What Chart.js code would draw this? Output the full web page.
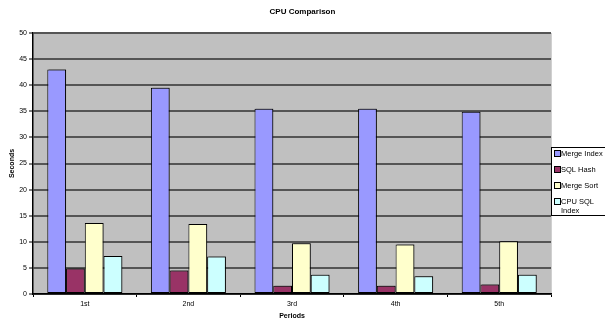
<!DOCTYPE html>
<html>
<head>
<meta charset="utf-8">
<script src="https://cdn.jsdelivr.net/npm/chart.js@4/dist/chart.umd.min.js"></script>
<style>
  html, body { margin: 0; padding: 0; background: #ffffff; }
  #wrap { width: 605px; height: 320px; position: relative; }
  #heading {
    position: absolute; left: 0; top: 7px; width: 605px; text-align: center;
    font: bold 8px "Liberation Sans", Arial, sans-serif; color: #000;
  }
</style>
</head>
<body>
<div id="wrap">
  <canvas id="cpu" width="605" height="320"></canvas>
  <div id="heading">CPU Comparison</div>
</div>
<script>
// Periods and CPU seconds per method
const periods = ['1st', '2nd', '3rd', '4th', '5th'];
const mergeIndex = [43, 39.5, 35.5, 35.5, 34.9];
const sqlHash = [4.9, 4.5, 1.6, 1.6, 1.8];
const mergeSort = [13.6, 13.4, 9.7, 9.5, 10.1];
const cpuSqlIndex = [7.3, 7.2, 3.7, 3.4, 3.7];
const seriesNames = ['Merge Index', 'SQL Hash', 'Merge Sort', ['CPU SQL', 'Index']];
const seriesColors = ['#9999FF', '#993366', '#FFFFCC', '#CCFFFF'];
const yTicks = [0, 5, 10, 15, 20, 25, 30, 35, 40, 45, 50];

const FONT = '"Liberation Sans", Arial, sans-serif';

// Grey plot background plus a soft drop shadow behind the bars
const plotBackground = {
  id: 'plotBackground',
  beforeDraw(chart) {
    const { ctx, chartArea: a } = chart;
    ctx.save();
    ctx.fillStyle = '#C0C0C0';
    ctx.fillRect(a.left, a.top, a.right - a.left, a.bottom - a.top);
    ctx.strokeStyle = '#d0d0d0';
    ctx.lineWidth = 1;
    ctx.beginPath();
    ctx.moveTo(a.right + 0.5, a.top);
    ctx.lineTo(a.right + 0.5, a.bottom);
    ctx.stroke();
    ctx.restore();
  },
  beforeDatasetsDraw(chart) {
    const ctx = chart.ctx;
    ctx.save();
    ctx.shadowColor = 'rgba(0,0,0,0.4)';
    ctx.shadowOffsetX = 1.5;
    ctx.shadowOffsetY = -0.5;
    ctx.shadowBlur = 0;
  },
  afterDatasetsDraw(chart) {
    chart.ctx.restore();
  }
};

// Boxed legend beside the plot, labels may span two lines
const boxLegend = {
  id: 'boxLegend',
  afterDraw(chart) {
    const { ctx, chartArea: a } = chart;
    const x0 = a.right + 0.5;
    const y0 = 147.5;
    const y1 = 215.5;
    ctx.save();
    ctx.fillStyle = '#ffffff';
    ctx.fillRect(x0, y0, chart.width - x0, y1 - y0);
    ctx.strokeStyle = '#000000';
    ctx.lineWidth = 1;
    ctx.strokeRect(x0, y0, chart.width - x0 + 4, y1 - y0);
    ctx.font = '7.5px ' + FONT;
    ctx.textBaseline = 'middle';
    ctx.textAlign = 'left';
    chart.data.datasets.forEach((ds, i) => {
      const cy = 153.5 + i * 16;
      ctx.fillStyle = ds.backgroundColor;
      ctx.fillRect(x0 + 3, cy - 3, 6, 6);
      ctx.strokeStyle = '#000000';
      ctx.strokeRect(x0 + 3, cy - 3, 6, 6);
      ctx.fillStyle = '#000000';
      const lines = Array.isArray(ds.label) ? ds.label : [ds.label];
      lines.forEach((t, j) => {
        ctx.fillText(t, x0 + 9.5, cy + j * 9);
      });
    });
    ctx.restore();
  }
};

const datasets = [mergeIndex, sqlHash, mergeSort, cpuSqlIndex].map((vals, i) => ({
  label: seriesNames[i],
  data: vals,
  backgroundColor: seriesColors[i],
  borderColor: '#000000',
  borderWidth: 1,
  borderSkipped: false,
  categoryPercentage: 0.724,
  barPercentage: 1.0
}));

new Chart(document.getElementById('cpu'), {
  type: 'bar',
  data: { labels: periods, datasets },
  plugins: [plotBackground, boxLegend],
  options: {
    responsive: false,
    animation: false,
    devicePixelRatio: 1,
    layout: { padding: { top: 33, right: 54, left: 0, bottom: 0 } },
    plugins: {
      legend: { display: false },
      tooltip: { enabled: false },
      title: { display: false }
    },
    scales: {
      x: {
        afterFit(scale) { scale.height = 26; },
        grid: {
          offset: true,
          drawOnChartArea: false,
          drawTicks: true,
          tickLength: 3,
          tickColor: '#000000',
          tickWidth: 1
        },
        border: { color: '#000000', width: 1.5 },
        ticks: { font: { family: FONT, size: 7 }, color: '#000000', padding: 3, maxRotation: 0 },
        title: {
          display: true,
          text: 'Periods',
          font: { family: FONT, size: 7, weight: 'bold' },
          color: '#000000',
          padding: { top: 0, bottom: 0 }
        }
      },
      y: {
        min: 0,
        max: 50,
        afterFit(scale) { scale.width = 33; },
        afterBuildTicks(scale) { scale.ticks = yTicks.map(v => ({ value: v })); },
        grid: {
          color: '#555555',
          lineWidth: 2,
          drawTicks: true,
          tickLength: 4,
          tickColor: '#000000',
          tickWidth: 1
        },
        border: { color: '#000000', width: 1.5 },
        ticks: { font: { family: FONT, size: 7 }, color: '#000000', padding: 2 },
        title: {
          display: true,
          text: 'Seconds',
          font: { family: FONT, size: 7, weight: 'bold' },
          color: '#000000',
          padding: { top: 8, bottom: 0 }
        }
      }
    }
  }
});
</script>
</body>
</html>
